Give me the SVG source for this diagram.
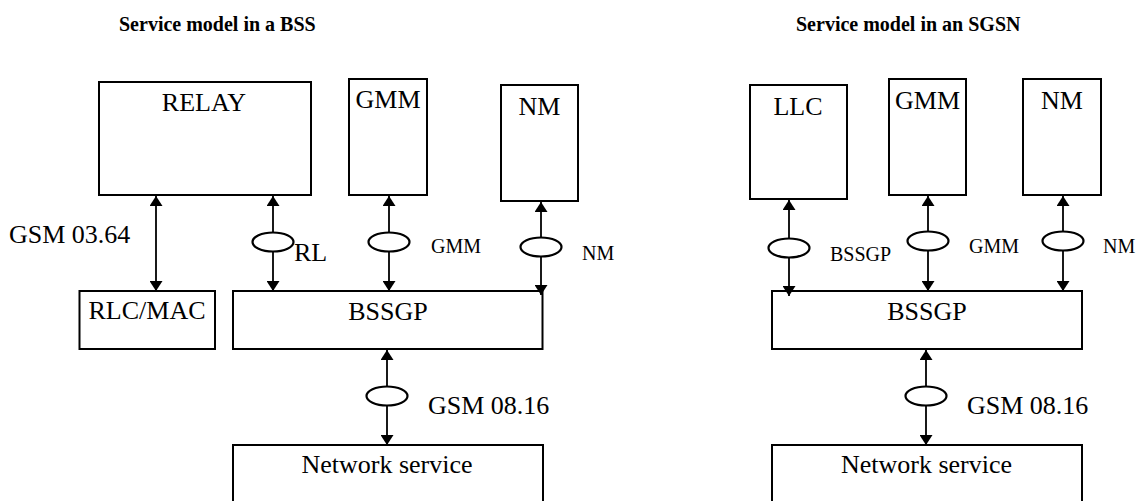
<svg xmlns="http://www.w3.org/2000/svg" width="1143" height="501" viewBox="0 0 1143 501">
<style>
.box{fill:#fff;stroke:#000;stroke-width:2}
.t{font-family:"Liberation Serif","Times New Roman",serif;font-size:26px;fill:#000}
.c{text-anchor:middle}
.s{font-family:"Liberation Serif","Times New Roman",serif;font-size:20px;fill:#000}
.title{font-family:"Liberation Serif","Times New Roman",serif;font-size:20px;font-weight:bold;fill:#000}
.ln{stroke:#000;stroke-width:1.8;fill:none;marker-start:url(#ah);marker-end:url(#ah)}
.el{fill:#fff;stroke:#000;stroke-width:2.2}
</style>
<defs>
<marker id="ah" markerUnits="userSpaceOnUse" markerWidth="10" markerHeight="13" refX="10" refY="6.5" orient="auto-start-reverse" viewBox="0 0 10 13">
<path d="M0,0 L10,6.5 L0,13 z" fill="#000"/>
</marker>
</defs>
<rect width="1143" height="501" fill="#fff"/>
<text class="title" x="119" y="31">Service model in a BSS</text>
<text class="title" x="796" y="31">Service model in an SGSN</text>

<g id="relay"><rect class="box" x="99" y="82" width="212" height="113"/><text class="t c" x="204" y="111">RELAY</text></g>
<g id="gmm-bss"><rect class="box" x="349" y="79" width="78" height="116"/><text class="t c" x="388" y="108">GMM</text></g>
<g id="nm-bss"><rect class="box" x="501" y="85" width="77" height="116"/><text class="t c" x="539.5" y="115">NM</text></g>
<g id="rlcmac"><rect class="box" x="79.5" y="291" width="135.5" height="58"/><text class="t c" x="147" y="319">RLC/MAC</text></g>
<g id="bssgp-bss"><rect class="box" x="233" y="291" width="309.5" height="58"/><text class="t c" x="388" y="320">BSSGP</text></g>
<g id="ns-bss"><rect class="box" x="233" y="445" width="310" height="70"/><text class="t c" x="387" y="473">Network service</text></g>

<g id="llc"><rect class="box" x="750" y="85" width="97" height="114"/><text class="t c" x="798" y="115">LLC</text></g>
<g id="gmm-sgsn"><rect class="box" x="889" y="79" width="77" height="116"/><text class="t c" x="927.5" y="109">GMM</text></g>
<g id="nm-sgsn"><rect class="box" x="1023" y="79" width="78" height="116"/><text class="t c" x="1062" y="109">NM</text></g>
<g id="bssgp-sgsn"><rect class="box" x="772" y="291" width="310" height="58"/><text class="t c" x="927" y="320">BSSGP</text></g>
<g id="ns-sgsn"><rect class="box" x="772" y="445" width="310" height="70"/><text class="t c" x="926.5" y="473">Network service</text></g>

<g id="connectors">
<line class="ln" x1="156" y1="196" x2="156" y2="291"/>
<text class="t" x="9" y="243">GSM 03.64</text>
<line class="ln" x1="273" y1="196" x2="273" y2="291"/>
<ellipse class="el" cx="273" cy="242" rx="20.5" ry="9.5"/>
<text class="t" x="294" y="261">RL</text>
<line class="ln" x1="389" y1="196" x2="389" y2="291"/>
<ellipse class="el" cx="389" cy="242" rx="20.5" ry="9.5"/>
<text class="s" x="431" y="253">GMM</text>
<line class="ln" x1="541" y1="202" x2="541" y2="295"/>
<ellipse class="el" cx="541" cy="247" rx="20.5" ry="9.5"/>
<text class="s" x="582" y="260">NM</text>
<line class="ln" x1="387" y1="350" x2="387" y2="445"/>
<ellipse class="el" cx="387" cy="396" rx="20.5" ry="9.5"/>
<text class="t" x="428" y="414">GSM 08.16</text>

<line class="ln" x1="789" y1="200" x2="789" y2="296"/>
<ellipse class="el" cx="789" cy="248" rx="20.5" ry="9.5"/>
<text class="s" x="830" y="261">BSSGP</text>
<line class="ln" x1="928" y1="196" x2="928" y2="291"/>
<ellipse class="el" cx="928" cy="241" rx="20.5" ry="9.5"/>
<text class="s" x="969" y="253">GMM</text>
<line class="ln" x1="1063" y1="196" x2="1063" y2="291"/>
<ellipse class="el" cx="1063" cy="241" rx="20.5" ry="9.5"/>
<text class="s" x="1103" y="253">NM</text>
<line class="ln" x1="926" y1="350" x2="926" y2="445"/>
<ellipse class="el" cx="926" cy="396" rx="20.5" ry="9.5"/>
<text class="t" x="967" y="414">GSM 08.16</text>
</g>
</svg>
